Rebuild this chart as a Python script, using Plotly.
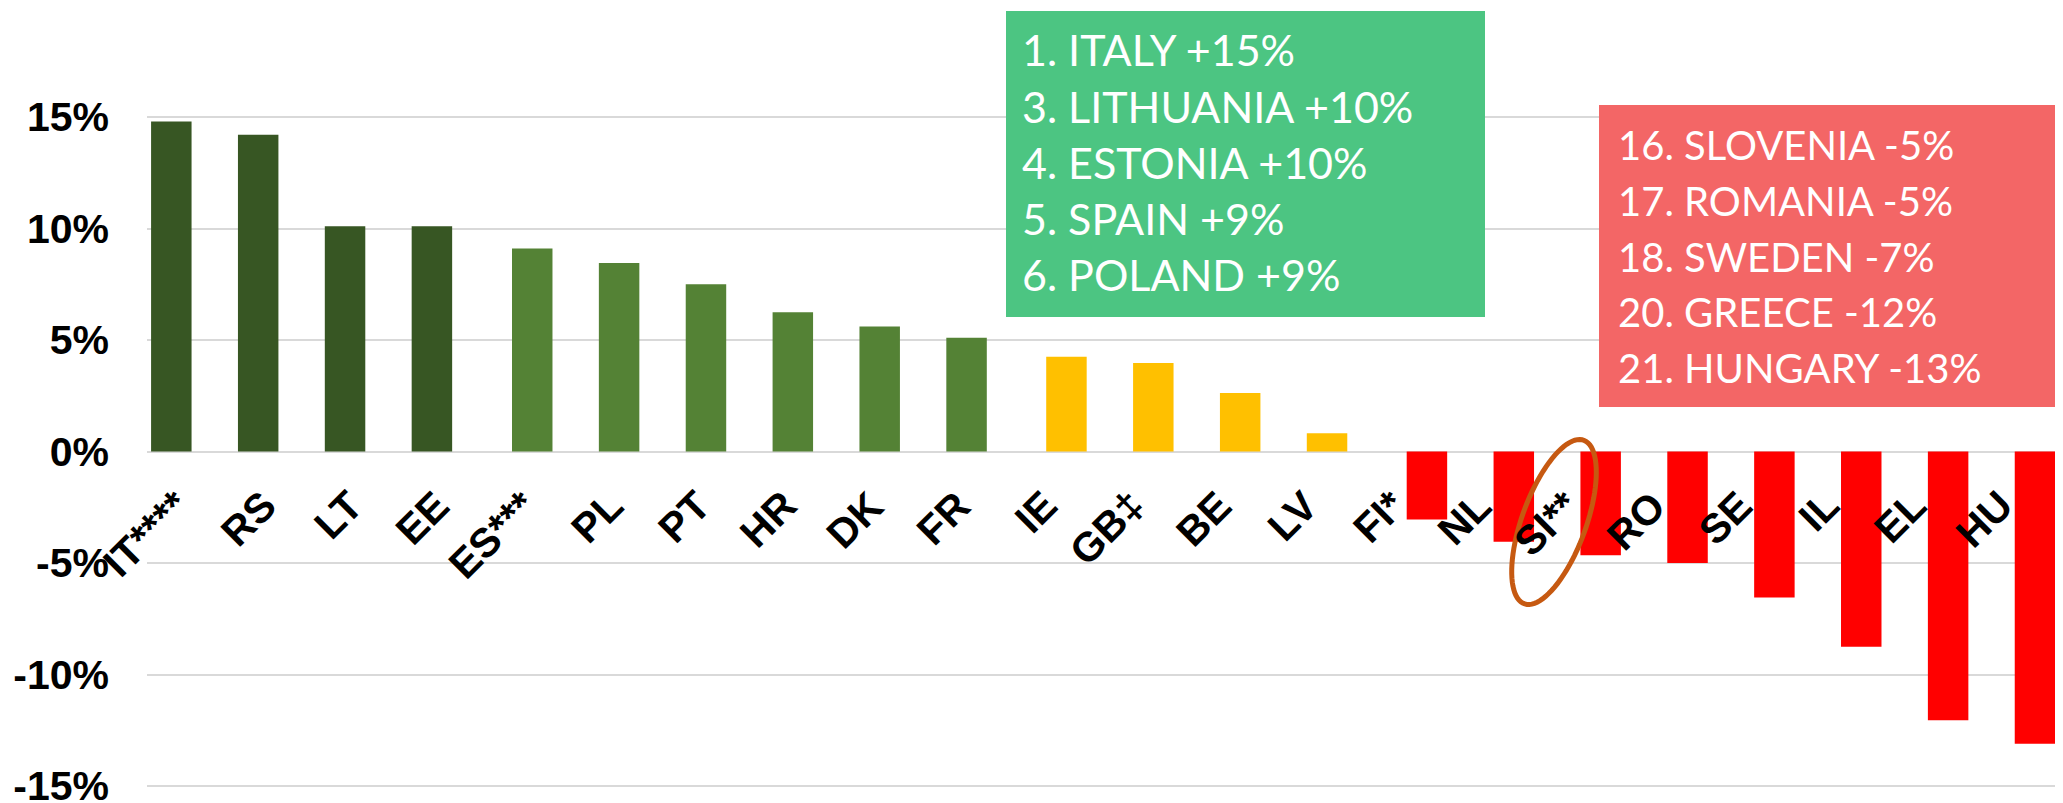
import numpy as np
import plotly.graph_objects as go

# ---------------- data ----------------
categories = ["IT****", "RS", "LT", "EE", "ES***", "PL", "PT", "HR", "DK", "FR",
              "IE", "GB‡", "BE", "LV", "FI*", "NL", "SI**", "RO", "SE", "IL", "EL", "HU"]
values = [14.8, 14.2, 10.1, 10.1, 9.1, 8.45, 7.5, 6.25, 5.6, 5.1,
          4.25, 3.97, 2.62, 0.82, -3.05, -4.05, -4.65, -5.0, -6.55, -8.75, -12.05, -13.1]
groups = [0, 0, 0, 0, 1, 1, 1, 1, 1, 1,
          2, 2, 2, 2, 3, 3, 3, 3, 3, 3, 3, 3]
group_colors = ["#375623", "#548235", "#FFC000", "#FF0000"]

ytick_vals = [-15, -10, -5, 0, 5, 10, 15]
ytick_text = ["-15%", "-10%", "-5%", "0%", "5%", "10%", "15%"]

top_lines = ["1. ITALY +15%", "3. LITHUANIA +10%", "4. ESTONIA +10%", "5. SPAIN +9%", "6. POLAND +9%"]
bottom_lines = ["16. SLOVENIA -5%", "17. ROMANIA -5%", "18. SWEDEN -7%", "20. GREECE -12%", "21. HUNGARY -13%"]

# ---------------- layout constants ----------------
OFF = 8                      # page body margin
W, H = 2063 - OFF, 803 - OFF
ML, MR = 147 - OFF, 5
PX_PER_UNIT = 22.3
Y_MAX = 15 + (117 - OFF) / PX_PER_UNIT
Y_MIN = -15 - (H - (786 - OFF)) / PX_PER_UNIT
BAR_W = 0.466
GROUP_SHIFT = [-0.22, -0.065, 0.085, 0.235]


def px_x(p):
    return (p - OFF - ML) / (W - ML - MR)


def px_y(p):
    return (H - (p - OFF)) / H


fig = go.Figure()
for g, col in enumerate(group_colors):
    xs = [c for c, gg in zip(categories, groups) if gg == g]
    ys = [v for v, gg in zip(values, groups) if gg == g]
    fig.add_trace(go.Bar(
        x=xs, y=ys, marker=dict(color=col, line=dict(width=0)),
        width=BAR_W, offset=GROUP_SHIFT[g] - BAR_W / 2,
        showlegend=False, hoverinfo="skip"))

shapes = [
    dict(type="rect", xref="paper", yref="paper", x0=px_x(1006), x1=px_x(1485),
         y0=px_y(317), y1=px_y(11), fillcolor="#4CC582", line=dict(width=0), layer="above"),
    dict(type="rect", xref="paper", yref="paper", x0=px_x(1599), x1=px_x(2063),
         y0=px_y(407), y1=px_y(105), fillcolor="#F36666", line=dict(width=0), layer="above"),
]

# ellipse around SI**
a, b, th = 87.0, 32.0, np.deg2rad(20.0)
t = np.linspace(0, 2 * np.pi, 90)
ex = (b * np.cos(t)) * np.cos(th) + (a * np.sin(t)) * np.sin(th)
ey = -(b * np.cos(t)) * np.sin(th) + (a * np.sin(t)) * np.cos(th)
path = "M " + " L ".join(f"{x:.2f},{y:.2f}" for x, y in zip(ex, ey)) + " Z"
shapes.append(dict(type="path", xref="paper", yref="paper", xsizemode="pixel", ysizemode="pixel",
                   xanchor=px_x(1554), yanchor=px_y(522), path=path,
                   line=dict(color="#C65911", width=5), layer="above"))

annotations = []
for i, txt in enumerate(top_lines):
    annotations.append(dict(text=txt, xref="paper", yref="paper", x=px_x(1020), y=px_y(50 + 56.1 * i),
                            xanchor="left", yanchor="middle", showarrow=False,
                            font=dict(family="Lato", size=43, color="white")))
for i, txt in enumerate(bottom_lines):
    annotations.append(dict(text=txt, xref="paper", yref="paper", x=px_x(1616), y=px_y(145 + 55.8 * i),
                            xanchor="left", yanchor="middle", showarrow=False,
                            font=dict(family="Lato", size=40, color="white")))

# category labels next to the zero line, rotated
for c in categories:
    annotations.append(dict(text=c, xref="x", yref="y", x=c, y=0,
                            xanchor="right", yanchor="top", textangle=-45,
                            xshift=10, yshift=-28, showarrow=False,
                            font=dict(family="Liberation Sans, Arial", size=41, color="black",
                                      weight="bold")))

fig.update_layout(
    width=W, height=H,
    margin=dict(l=ML, r=MR, t=0, b=0, pad=0),
    paper_bgcolor="white", plot_bgcolor="white",
    barmode="overlay",
    shapes=shapes, annotations=annotations,
    xaxis=dict(type="category", categoryorder="array", categoryarray=categories,
               range=[-0.5, len(categories) - 0.5],
               showgrid=False, showline=False, zeroline=False, ticks="",
               showticklabels=False, automargin=False),
    yaxis=dict(range=[Y_MIN, Y_MAX], tickvals=ytick_vals, ticktext=ytick_text,
               showgrid=True, gridcolor="#D9D9D9", gridwidth=2,
               zeroline=True, zerolinecolor="#D9D9D9", zerolinewidth=2,
               showline=False, ticks="", ticklabelstandoff=37, automargin=False,
               ticklabeloverflow="allow",
               tickfont=dict(family="Liberation Sans, Arial", size=41, color="black", weight="bold")),
)

fig.write_html("out.html")
